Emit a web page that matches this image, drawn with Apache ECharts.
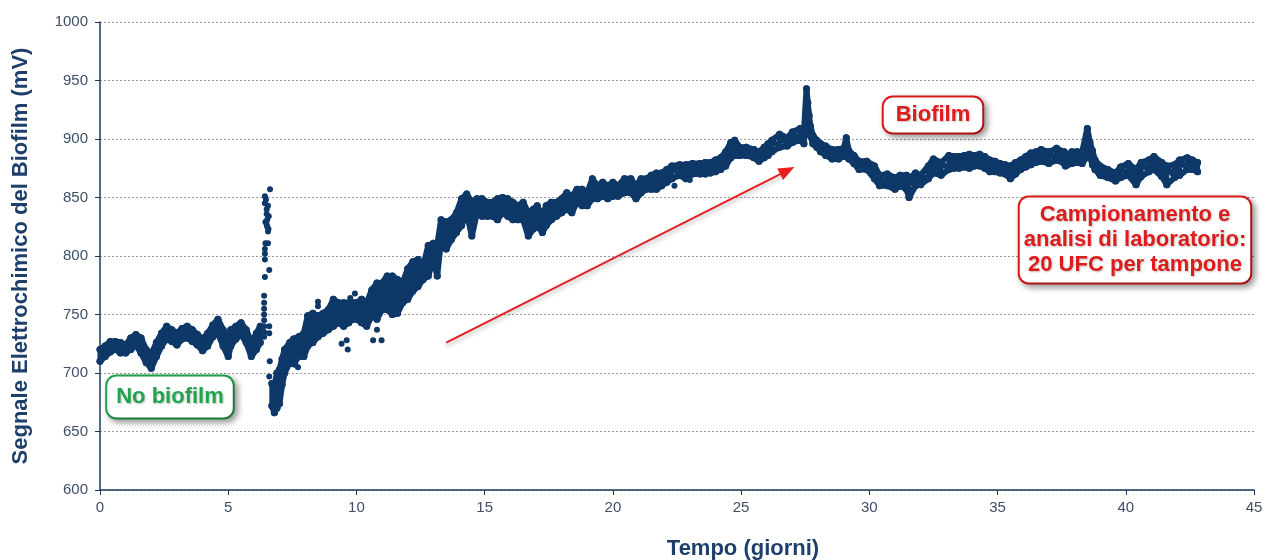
<!DOCTYPE html>
<html>
<head>
<meta charset="utf-8">
<script src="https://cdn.jsdelivr.net/npm/echarts@6.0.0/dist/echarts.min.js"></script>
<style>
  html, body { margin: 0; padding: 0; background: #fff; }
  #chart { width: 1265px; height: 560px; }
</style>
</head>
<body>
<div id="chart"></div>
<script>
// band of the signal before the spike: [giorno, min mV, max mV]
const bandEarly = [
  [0.0,710,720],[0.2,714,723],[0.4,718,727],[0.6,720,727],[0.8,717,726],[1.0,717,724],
  [1.2,720,730],[1.4,724,733],[1.6,717,730],[1.8,709,720],[2.0,704,716],[2.2,714,726],
  [2.4,723,734],[2.6,729,740],[2.8,727,737],[3.0,724,734],[3.2,729,738],[3.4,730,740],
  [3.6,727,737],[3.8,724,733],[4.0,719,729],[4.2,723,734],[4.4,731,741],[4.6,734,746],
  [4.8,723,737],[5.0,714,726],[5.1,723,737],[5.3,729,740],[5.5,733,743],[5.7,726,737],
  [5.9,714,726],[6.1,720,734],[6.25,726,740]
];

// band after the spike
const bandLate = [
  [6.7,672,691],[6.8,666,689],[6.9,670,700],[7.0,674,703],[7.1,690,712],[7.2,700,720],
  [7.4,709,726],[7.55,708,729],[7.75,714,731],[7.95,714,734],[8.1,723,749],[8.3,726,751],
  [8.5,731,749],[8.7,734,751],[8.9,737,754],[9.1,740,763],[9.3,743,760],[9.5,740,760],
  [9.7,743,760],[9.85,746,760],[10.0,746,760],[10.2,743,763],[10.4,740,760],[10.6,749,771],
  [10.8,746,777],[11.0,754,777],[11.2,754,783],[11.4,750,783],[11.6,751,780],[11.8,760,777],
  [12.0,763,789],[12.2,770,795],[12.4,774,797],[12.6,780,791],[12.8,783,809],[13.0,797,811],
  [13.15,783,809],[13.3,814,831],[13.5,806,829],[13.7,814,831],[13.9,820,837],[14.1,826,849],
  [14.3,837,853],[14.5,817,846],[14.7,837,849],[14.9,834,849],[15.1,834,846],[15.3,834,846],
  [15.5,831,849],[15.7,837,850],[15.9,834,849],[16.1,831,846],[16.3,831,843],[16.5,831,846],
  [16.7,817,837],[16.9,823,840],[17.05,826,843],[17.25,820,834],[17.4,826,843],[17.6,831,846],
  [17.8,834,846],[18.0,837,849],[18.2,840,854],[18.4,837,851],[18.6,846,857],[18.8,843,857],
  [19.0,843,854],[19.2,849,866],[19.4,849,860],[19.6,851,863],[19.8,849,860],[20.0,851,863],
  [20.2,851,860],[20.45,854,866],[20.7,854,866],[20.9,849,860],[21.1,854,866],[21.3,857,866],
  [21.5,857,869],[21.7,857,871],[21.9,860,871],[22.1,863,874],[22.3,866,877],[22.6,869,878],
  [22.85,866,878],[23.1,870,879],[23.4,870,879],[23.6,870,880],[23.8,871,880],[24.0,872,882],
  [24.2,874,884],[24.4,877,889],[24.6,884,897],[24.75,886,899],[24.95,886,893],[25.2,886,893],
  [25.5,884,891],[25.7,881,889],[25.9,884,893],[26.05,886,896],[26.2,889,899],[26.5,893,904],
  [26.8,894,901],[27.0,897,906],[27.3,899,909],[27.45,896,906],[27.55,934,943],[27.6,923,931],
  [27.65,911,920],[27.7,903,911],[27.8,896,903],[27.95,893,899],[28.1,889,896],[28.3,886,894],
  [28.55,883,891],[28.8,883,891],[29.0,885,892],[29.1,886,901],[29.2,883,890],[29.4,879,886],
  [29.6,874,881],[29.9,874,881],[30.2,866,877],[30.4,860,869],[30.7,860,870],[31.0,857,867],
  [31.2,860,869],[31.45,857,869],[31.55,850,866],[31.8,860,871],[32.0,861,869],[32.3,866,877],
  [32.5,871,883],[32.8,869,880],[33.1,874,886],[33.3,875,885],[33.5,875,885],[33.7,876,886],
  [33.9,875,887],[34.1,877,886],[34.3,877,887],[34.5,875,885],[34.7,872,882],[34.9,872,881],
  [35.1,871,879],[35.3,870,878],[35.5,866,877],[35.7,870,880],[35.9,874,882],[36.1,876,885],
  [36.3,878,888],[36.5,880,889],[36.7,881,891],[37.0,879,889],[37.3,882,892],[37.6,879,889],
  [37.65,877,885],[37.9,879,889],[38.1,880,889],[38.3,879,889],[38.5,885,909],[38.6,885,897],
  [38.7,878,890],[38.8,874,882],[39.0,869,877],[39.3,867,874],[39.6,864,871],[39.8,867,876],
  [40.1,869,879],[40.4,861,874],[40.6,868,880],[40.9,872,882],[41.1,874,885],[41.4,868,880],
  [41.6,861,877],[41.9,867,878],[42.1,869,882],[42.4,874,884],[42.6,874,882],[42.8,872,880]
];

// isolated readings of the spike near day 6.5
const spikePoints = [
  [6.63,857],[6.43,851],[6.47,848],[6.43,845],[6.55,843],[6.5,840],[6.5,836],[6.58,834],
  [6.52,831],[6.45,829],[6.5,827],[6.52,825],[6.57,823],[6.55,821],[6.45,811],[6.55,811],
  [6.43,806],[6.43,802],[6.43,797],[6.6,788],[6.43,782],[6.4,766],[6.4,760],[6.4,755],
  [6.4,750],[6.4,745],[6.4,740],[6.4,735],[6.4,731]
];

// stray readings outside the band
const strayPoints = [
  [6.6,740],[6.6,734],[6.62,710],[6.6,697],[7.72,705],[7.62,707],[8.5,757],[8.5,761],
  [9.42,725],[9.62,728],[9.66,720],[9.76,764],[9.94,768],[10.65,728],[10.8,737],[10.98,728],
  [22.4,860],[23.0,865]
];

const xTicks = { min: 0, max: 45, interval: 5 };
const yTicks = { min: 600, max: 1000, interval: 50 };

const navy = '#0d3868';
const font = 'Liberation Sans, Arial, sans-serif';

// zig-zag between lower and upper edge so the band is filled
function zigzag(rows) {
  const out = [];
  rows.forEach(r => {
    out.push([r[0], r[1]]);
    out.push([r[0], r[2]]);
  });
  return out;
}

function dotLine(data, width, extra) {
  return Object.assign({
    type: 'line',
    data: data,
    symbol: 'circle',
    symbolSize: 7,
    showSymbol: true,
    showAllSymbol: true,
    lineStyle: { color: navy, width: width },
    itemStyle: { color: navy, opacity: 1 },
    z: 3
  }, extra || {});
}

// fill + lower edge + upper edge for one band
function bandSeries(rows, extra) {
  return [
    dotLine(zigzag(rows), 5, extra),
    dotLine(rows.map(r => [r[0], r[1]]), 6),
    dotLine(rows.map(r => [r[0], r[2]]), 6)
  ];
}

function box(text, x, y, color, extra) {
  return {
    type: 'text',
    x: x,
    y: y,
    z: 10,
    style: Object.assign({
      text: text,
      align: 'center',
      verticalAlign: 'middle',
      font: 'bold 22px ' + font,
      fill: color,
      lineHeight: 25,
      backgroundColor: '#fff',
      borderColor: color,
      borderWidth: 2,
      borderRadius: 9,
      padding: [8, 9, 8, 9],
      shadowColor: 'rgba(0,0,0,0.35)',
      shadowBlur: 6,
      shadowOffsetX: 3,
      shadowOffsetY: 3,
      textShadowColor: 'rgba(0,0,0,0.25)',
      textShadowBlur: 2,
      textShadowOffsetX: 1,
      textShadowOffsetY: 1
    }, extra || {})
  };
}

const chart = echarts.init(document.getElementById('chart'));
chart.setOption({
  animation: false,
  backgroundColor: '#fff',
  grid: { left: 100, right: 11, top: 22, bottom: 70, outerBoundsMode: 'none' },
  xAxis: {
    type: 'value',
    min: xTicks.min,
    max: xTicks.max,
    interval: xTicks.interval,
    axisLine: { show: true, lineStyle: { color: '#1e3a5c', width: 1.5 } },
    axisTick: { show: true, length: 5, lineStyle: { color: '#1e3a5c' } },
    axisLabel: { color: '#3e4f66', fontSize: 15, fontFamily: font, margin: 10 },
    splitLine: { show: false }
  },
  yAxis: {
    type: 'value',
    min: yTicks.min,
    max: yTicks.max,
    interval: yTicks.interval,
    name: 'Segnale Elettrochimico del Biofilm (mV)',
    nameLocation: 'middle',
    nameGap: 68,
    nameTextStyle: { color: '#1f3f6b', fontSize: 22, fontWeight: 'bold', fontFamily: font },
    axisLine: { show: true, lineStyle: { color: '#1e3a5c', width: 1.5 } },
    axisTick: { show: true, length: 5, lineStyle: { color: '#1e3a5c' } },
    axisLabel: { color: '#3e4f66', fontSize: 15, fontFamily: font, margin: 12,
      formatter: v => String(v) },
    splitLine: { show: true, lineStyle: { color: '#9a9a9a', type: [2, 2], width: 1 } }
  },
  graphic: [
    {
      type: 'text',
      x: 743,
      y: 549,
      style: {
        text: 'Tempo (giorni)',
        align: 'center',
        verticalAlign: 'middle',
        font: 'bold 22px ' + font,
        fill: '#1f3f6b'
      }
    },
    box('No biofilm', 170, 397, '#1fa64d'),
    box('Biofilm', 933, 115, '#e01b1b', { padding: [5, 12, 5, 12] }),
    box('Campionamento e\nanalisi di laboratorio:\n20 UFC per tampone', 1135, 240, '#e01b1b',
      { padding: [5, 4, 5, 4] })
  ],
  series: [].concat(
    bandSeries(bandEarly),
    bandSeries(bandLate, {
      markLine: {
        silent: true,
        symbol: ['none', 'triangle'],
        symbolSize: [13, 16],
        label: { show: false },
        lineStyle: {
          color: '#e52020',
          width: 2,
          type: 'solid',
          shadowColor: 'rgba(0,0,0,0.3)',
          shadowBlur: 4,
          shadowOffsetY: 3
        },
        data: [[{ coord: [13.5, 726] }, { coord: [26.8, 873] }]]
      }
    }),
    [{
      type: 'scatter',
      data: spikePoints.concat(strayPoints),
      symbol: 'circle',
      symbolSize: 6,
      itemStyle: { color: navy, opacity: 1 },
      z: 3
    }]
  )
});
</script>
</body>
</html>
